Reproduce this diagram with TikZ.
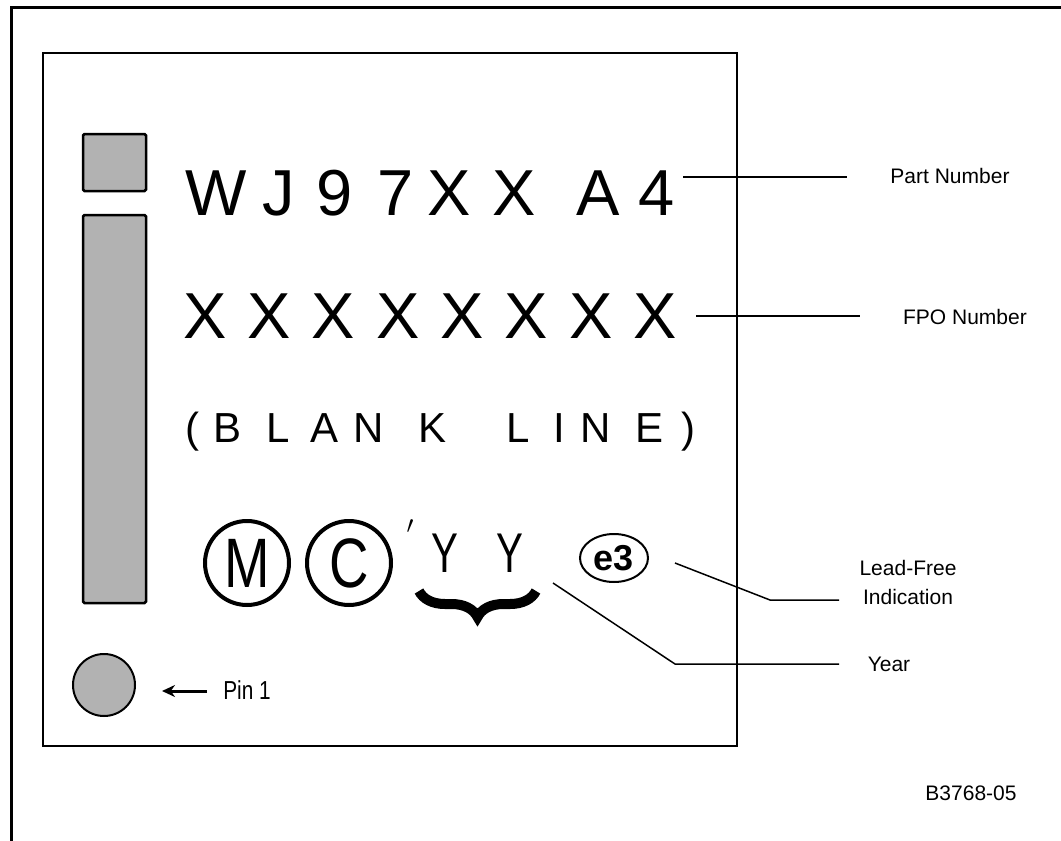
\documentclass[tikz,border=0pt]{standalone}
\usepackage{fontspec}
\setmainfont{Liberation Sans}
\usepackage{graphicx}
\usetikzlibrary{arrows.meta,decorations.pathreplacing,shapes.geometric}

\begin{document}
\begin{tikzpicture}[x=1pt,y=-1pt,
  big/.style = {inner sep=0pt, anchor=base, font=\fontsize{65}{78}\selectfont},
  mid/.style = {inner sep=0pt, anchor=base, font=\fontsize{42}{50}\selectfont},
  ring/.style = {draw, circle, line width=4pt, minimum size=84pt, inner sep=0pt, font=\fontsize{70}{84}\selectfont},
  lbl/.style = {inner sep=0pt, align=center, font=\fontsize{21}{29}\selectfont},
  lead/.style = {line width=1.5pt}]
\useasboundingbox (0,0) rectangle (1061,841);
\draw [line width=3pt] (1061,7) -- (11,7) -- (11,841);
\draw [line width=2pt] (43,53) rectangle (737,746);
\draw [line width=2.5pt, fill=black!30, rounded corners=1.5pt] (83,134) rectangle (146,191);
\draw [line width=2.5pt, fill=black!30, rounded corners=1.5pt] (83,215) rectangle (146,603);
\node[draw, circle, line width=2pt, fill=black!30, minimum size=62pt] (pin) at (104,685) {};
% marking lines
\foreach \ch/\x [count=\i] in {W/216,J/279,9/335,7/396,X/449,X/514,A/598,4/657} \node[big] (part\i) at (\x,215) {\ch};
\foreach \i in {0,...,7} \node[big] (fpo\i) at (205+64.3*\i,338) {X};
\node[mid] (bl0) at (192,442) {(};
\foreach \ch/\x [count=\i] in {B/228,L/278,A/325,N/369,K/433,L/518,I/559,N/596,E/650} \node[mid] (bl\i) at (\x,442) {\ch};
\node[mid] (bl10) at (688,442) {)};
\node[ring] (mark) at (247,563) {\scalebox{0.78}[1]{M}}; \node[ring] (copy) at (349,563) {\scalebox{0.78}[1]{C}};
\node (tick) at (410,527) {\Huge$\prime$};
\node[inner sep=0pt, anchor=base, font=\fontsize{56}{67}\selectfont] (yr1) at (445,572) {\scalebox{0.72}[1]{Y}};
\node[inner sep=0pt, anchor=base, font=\fontsize{56}{67}\selectfont] (yr2) at (510,572) {\scalebox{0.72}[1]{Y}};
\draw [line width=10pt, decorate, decoration={brace, mirror, amplitude=26pt}] (419,591) -- (536,591);
\node[draw, ellipse, line width=2pt, minimum width=68pt, minimum height=48pt, inner sep=0pt, font=\fontsize{36}{42}\selectfont\bfseries] (pb) at (614,558) {e3};
% callouts
\node[lbl] (partlbl) at (950,176) {Part Number};
\node[lbl] (fpolbl) at (965,317) {FPO Number};
\node[lbl] (pblbl) at (908,582) {Lead-Free\\Indication};
\node[lbl] (yrlbl) at (889,664) {Year};
\node[lbl] (figlbl) at (971,793) {B3768-05};
\node[lbl, font=\fontsize{26}{30}\selectfont] (pinlbl) at (247,690) {\scalebox{0.8}[1]{Pin 1}};
\coordinate (pn1) at (683,177); \coordinate (pn2) at (847,177);
\coordinate (fn1) at (696,316); \coordinate (fn2) at (860,316);
\coordinate (lf1) at (675,563); \coordinate (lf2) at (770,600); \coordinate (lf3) at (839,600);
\coordinate (yy1) at (553,583); \coordinate (yy2) at (675,664); \coordinate (yy3) at (839,664);
\coordinate (pa1) at (207,691); \coordinate (pa2) at (162,691);
\draw [lead] (pn1) -- (pn2); \draw [lead] (fn1) -- (fn2);
\draw [lead] (lf1) -- (lf2) -- (lf3); \draw [lead] (yy1) -- (yy2) -- (yy3);
\draw [line width=3pt, -{Stealth[length=13pt,width=12pt]}] (pa1) -- (pa2);
\end{tikzpicture}
\end{document}
